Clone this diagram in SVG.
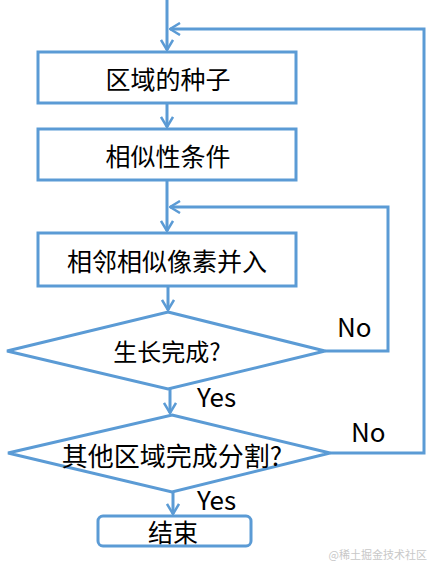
<svg xmlns="http://www.w3.org/2000/svg" width="441" height="575" viewBox="0 0 441 575">
<defs>
<style>
.box{fill:#fff;stroke:#5b9bd5;stroke-width:3}
.ln{fill:none;stroke:#5b9bd5;stroke-width:3}
.t{font-family:"Noto Sans CJK SC","Noto Sans",sans-serif;fill:#000;text-anchor:middle;dominant-baseline:central}
.lb{font-family:"Noto Sans CJK SC","Noto Sans",sans-serif;fill:#000;font-size:26px}
</style>
<marker id="arr" viewBox="0 0 12 14" refX="11" refY="7" markerWidth="12" markerHeight="14" markerUnits="userSpaceOnUse" orient="auto">
<path d="M1,1 L11,7 L1,13" fill="none" stroke="#5b9bd5" stroke-width="2.5"/>
</marker>
</defs>
<rect width="441" height="575" fill="#fff"/>
<g id="connectors">
<path class="ln" d="M167,0 V50" marker-end="url(#arr)"/>
<path class="ln" d="M167,103 V127" marker-end="url(#arr)"/>
<path class="ln" d="M167,180 V231" marker-end="url(#arr)"/>
<path class="ln" d="M168,286 V310" marker-end="url(#arr)"/>
<path class="ln" d="M170,389 V413" marker-end="url(#arr)"/>
<path class="ln" d="M173,492 V514" marker-end="url(#arr)"/>
<path class="ln" d="M325,351 H388 V207 H170" marker-end="url(#arr)"/>
<path class="ln" d="M330,453 H424 V29 H170" marker-end="url(#arr)"/>
</g>
<g id="seed">
<rect class="box" x="38" y="52" width="258" height="51"/>
<text class="t" x="168" y="77.5" font-size="25">区域的种子</text>
</g>
<g id="condition">
<rect class="box" x="38" y="129" width="258" height="51"/>
<text class="t" x="168" y="155" font-size="25">相似性条件</text>
</g>
<g id="merge">
<rect class="box" x="38" y="233" width="258" height="53"/>
<text class="t" x="167" y="260" font-size="25">相邻相似像素并入</text>
</g>
<g id="grown">
<polygon class="box" points="168,312 325,351 168,389 7,351"/>
<text class="t" x="167" y="350" font-size="24">生长完成?</text>
</g>
<g id="allDone">
<polygon class="box" points="172,415 330,453 172,492 8,453"/>
<text class="t" x="172" y="454" font-size="26">其他区域完成分割?</text>
</g>
<g id="end">
<rect class="box" x="98" y="516" width="153" height="30" rx="5"/>
<text class="t" x="173" y="531" font-size="25">结束</text>
</g>
<g id="labels">
<text class="lb" x="337" y="337">No</text>
<text class="lb" x="351" y="442">No</text>
<text class="lb" x="197" y="407">Yes</text>
<text class="lb" x="197" y="510">Yes</text>
<text x="427" y="559" font-family="Noto Sans CJK SC, sans-serif" font-size="11" fill="#c8c8c8" text-anchor="end">@稀土掘金技术社区</text>
</g>
</svg>
